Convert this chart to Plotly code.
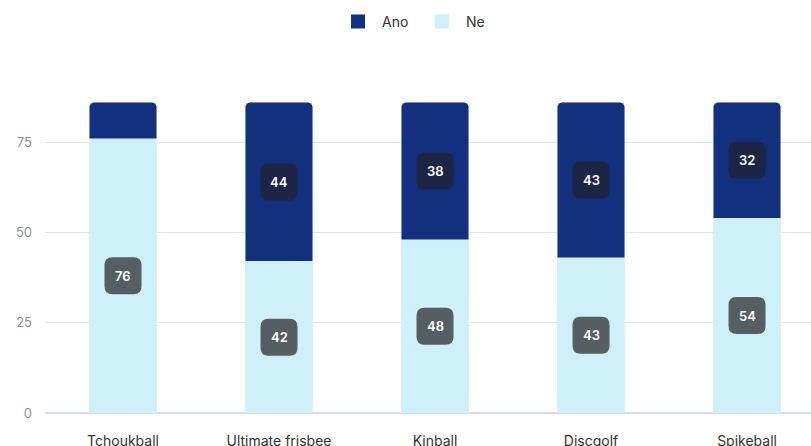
import plotly.graph_objects as go

# Survey answers per sport
categories = ["Tchoukball", "Ultimate frisbee", "Kinball", "Discgolf", "Spikeball"]
ano = [10, 44, 38, 43, 32]
ne = [76, 42, 48, 43, 54]

ano_color = "#12307e"
ne_color = "#cef1f9"
font_family = "Inter, Roboto, sans-serif"

fig = go.Figure()
fig.add_trace(go.Bar(name="Ne", x=categories, y=ne, marker_color=ne_color,
                     width=0.43, showlegend=False))
fig.add_trace(go.Bar(name="Ano", x=categories, y=ano, marker_color=ano_color,
                     width=0.43, showlegend=False))

# legend entries with larger square swatches
for name, color in [("Ano", ano_color), ("Ne", ne_color)]:
    fig.add_trace(go.Scatter(x=[None], y=[None], mode="markers", name=name,
                             marker=dict(symbol="square", size=14, color=color,
                                         line=dict(width=0))))


def badge(xval, yval, text, bg):
    # rounded label box, sized in pixels and anchored at the segment centre
    w, h, r = 37, 37, 8
    x0, x1, y0, y1 = -w / 2, w / 2, -h / 2, h / 2
    path = (f"M{x0 + r},{y0} L{x1 - r},{y0} Q{x1},{y0} {x1},{y0 + r} "
            f"L{x1},{y1 - r} Q{x1},{y1} {x1 - r},{y1} L{x0 + r},{y1} "
            f"Q{x0},{y1} {x0},{y1 - r} L{x0},{y0 + r} Q{x0},{y0} {x0 + r},{y0} Z")
    fig.add_shape(type="path", xref="x", yref="y", xsizemode="pixel", ysizemode="pixel",
                  xanchor=xval, yanchor=yval, path=path, fillcolor=bg,
                  line=dict(width=0), layer="above")
    fig.add_annotation(x=xval, y=yval, text=str(text), showarrow=False,
                       font=dict(family=font_family, size=13, color="white", weight=600))


for cat, n, a in zip(categories, ne, ano):
    badge(cat, n / 2, n, "#555e62")
    if a >= 15:
        badge(cat, n + a / 2, a, "#1c2546")

fig.update_layout(
    width=811, height=446,
    margin=dict(l=45, r=0, t=88, b=33),
    barmode="stack",
    barcornerradius=4,
    plot_bgcolor="white", paper_bgcolor="white",
    font=dict(family=font_family, size=13, color="#333333"),
    legend=dict(orientation="h", x=0.487, xanchor="center", y=0.951, yref="container",
                yanchor="middle", font=dict(size=14, color="#333333"),
                traceorder="normal", itemwidth=38, entrywidth=31),
    xaxis=dict(range=[-0.5, 4.41], showgrid=False, ticks="", showline=False,
               automargin=False, ticklabelstandoff=18,
               tickfont=dict(size=14, color="#333333")),
    yaxis=dict(range=[0, 90], tickvals=[0, 25, 50, 75], gridcolor="#e6e6e6",
               automargin=False,
               zeroline=True, zerolinecolor="#d5daf0", zerolinewidth=1.5,
               tickfont=dict(size=13, color="#8a8f98"), ticklabelstandoff=12),
)

fig.write_html("out.html")
